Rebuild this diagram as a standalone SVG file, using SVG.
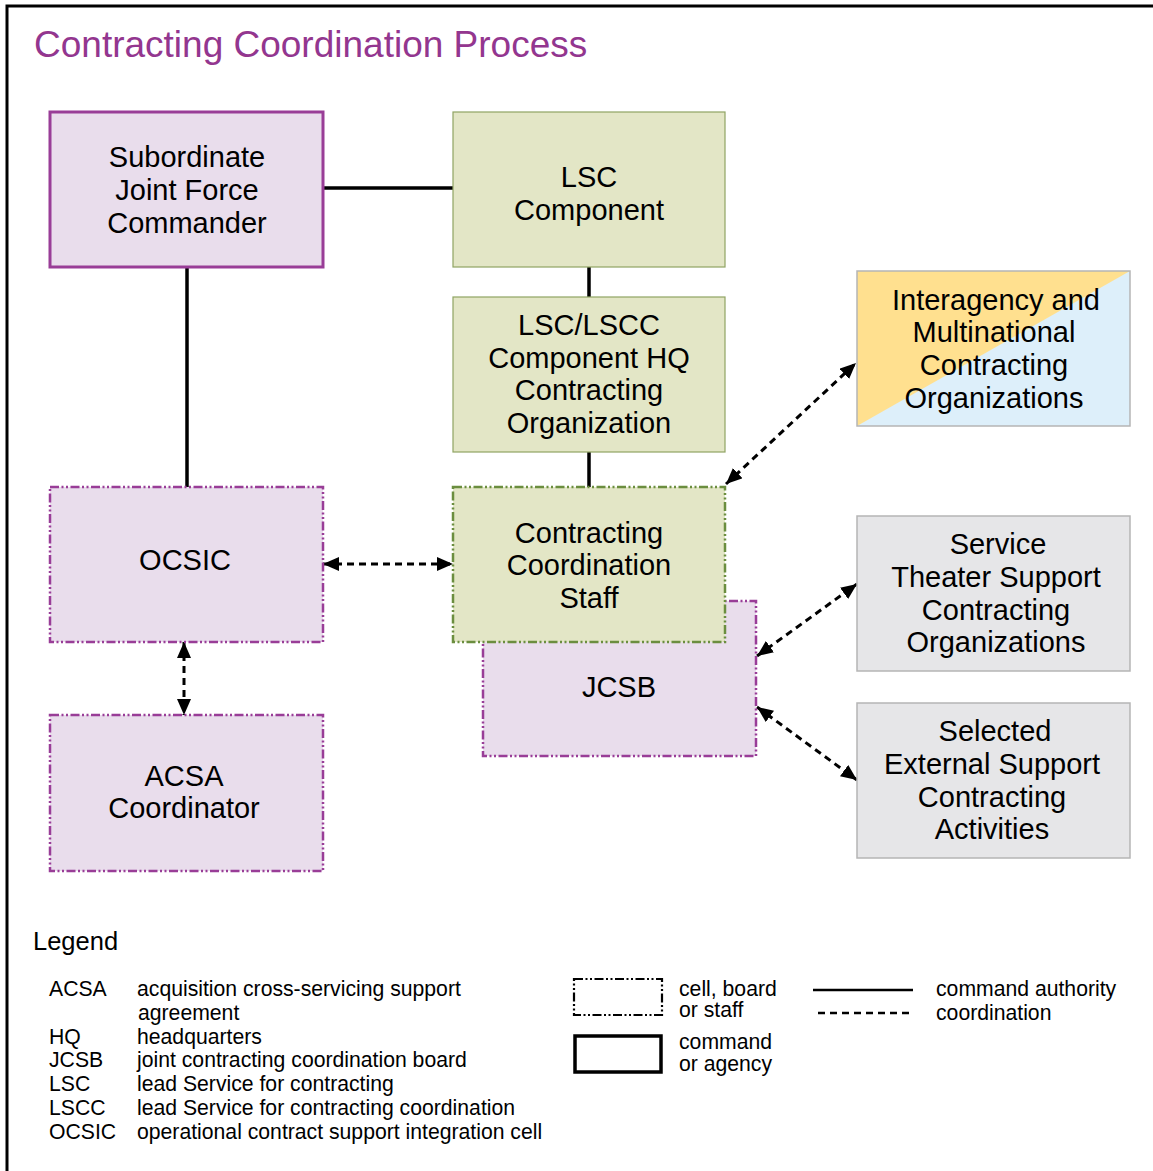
<svg xmlns="http://www.w3.org/2000/svg" width="1153" height="1171" viewBox="0 0 1153 1171">
  <style>
    text { font-family: "Liberation Sans", Arial, sans-serif; fill: #000; }
    .lbl { font-size: 29px; text-anchor: middle; }
    .title { font-size: 37px; fill: #93368F; }
    .leg { font-size: 21.2px; }
    .cmd { fill: #E9DDEC; stroke: #993D97; stroke-width: 3; }
    .cell { fill: #E9DDEC; stroke: #993D97; stroke-width: 2.5; stroke-dasharray: 9 2.5 2 2.5 2 2.5; }
    .olive { fill: #E3E6C6; stroke: #8FA463; stroke-width: 1.2; }
    .olivecell { fill: #E3E6C6; stroke: #6B8E3F; stroke-width: 2.5; stroke-dasharray: 9 2.5 2 2.5 2 2.5; }
    .grey { fill: #E6E6E8; stroke: #B5B5B5; stroke-width: 1.5; }
    .solid { stroke: #000; stroke-width: 3.5; fill: none; }
    .dash { stroke: #000; stroke-width: 3; fill: none; stroke-dasharray: 7 5; marker-start: url(#arr); marker-end: url(#arr); }
  </style>
  <defs>
    <marker id="arr" viewBox="0 0 16 14" refX="16" refY="7" markerWidth="16" markerHeight="14" markerUnits="userSpaceOnUse" orient="auto-start-reverse">
      <path d="M0,0 L16,7 L0,14 z" fill="#000" stroke="none"/>
    </marker>
    <clipPath id="ia-clip">
      <rect x="857" y="271" width="273" height="155"/>
    </clipPath>
  </defs>

  <rect width="1153" height="1171" fill="#fff"/>
  <!-- outer frame -->
  <path d="M7,1171 L7,6 L1153,6" fill="none" stroke="#000" stroke-width="3"/>

  <text class="title" x="34" y="57">Contracting Coordination Process</text>

  <!-- connectors -->
  <g id="connectors">
    <line class="solid" x1="323" y1="188" x2="453" y2="188"/>
    <line class="solid" x1="589" y1="267" x2="589" y2="297"/>
    <line class="solid" x1="589" y1="452" x2="589" y2="487"/>
    <line class="solid" x1="187" y1="267" x2="187" y2="487"/>
    <line class="dash" x1="323" y1="564" x2="453" y2="564"/>
    <line class="dash" x1="184" y1="642" x2="184" y2="715"/>
    <line class="dash" x1="726" y1="484" x2="856" y2="363"/>
    <line class="dash" x1="757" y1="656" x2="857" y2="584"/>
    <line class="dash" x1="757" y1="707" x2="857" y2="780"/>
  </g>

  <g id="sjfc">
    <rect class="cmd" x="50" y="112" width="273" height="155"/>
    <text class="lbl" x="187" y="167">Subordinate</text>
    <text class="lbl" x="187" y="200">Joint Force</text>
    <text class="lbl" x="187" y="233">Commander</text>
  </g>

  <g id="lsc">
    <rect class="olive" x="453" y="112" width="272" height="155"/>
    <text class="lbl" x="589" y="187">LSC</text>
    <text class="lbl" x="589" y="220">Component</text>
  </g>

  <g id="lsc-hq">
    <rect class="olive" x="453" y="297" width="272" height="155"/>
    <text class="lbl" x="589" y="335">LSC/LSCC</text>
    <text class="lbl" x="589" y="368">Component HQ</text>
    <text class="lbl" x="589" y="400">Contracting</text>
    <text class="lbl" x="589" y="433">Organization</text>
  </g>

  <g id="jcsb">
    <rect class="cell" x="483" y="601" width="273" height="155"/>
    <text class="lbl" x="619" y="697">JCSB</text>
  </g>

  <g id="ccs">
    <rect class="olivecell" x="453" y="487" width="272" height="155"/>
    <text class="lbl" x="589" y="543">Contracting</text>
    <text class="lbl" x="589" y="575">Coordination</text>
    <text class="lbl" x="589" y="608">Staff</text>
  </g>

  <g id="ocsic">
    <rect class="cell" x="50" y="487" width="273" height="155"/>
    <text class="lbl" x="185" y="570">OCSIC</text>
  </g>

  <g id="acsa">
    <rect class="cell" x="50" y="715" width="273" height="156"/>
    <text class="lbl" x="184" y="786">ACSA</text>
    <text class="lbl" x="184" y="818">Coordinator</text>
  </g>

  <g id="interagency">
    <g clip-path="url(#ia-clip)">
      <rect x="857" y="271" width="273" height="155" fill="#DDEFFA"/>
      <polygon points="857,271 1130,271 857,426" fill="#FFE08F"/>
    </g>
    <rect x="857" y="271" width="273" height="155" fill="none" stroke="#B5B5B5" stroke-width="1.5"/>
    <text class="lbl" x="996" y="310">Interagency and</text>
    <text class="lbl" x="994" y="342">Multinational</text>
    <text class="lbl" x="994" y="375">Contracting</text>
    <text class="lbl" x="994" y="408">Organizations</text>
  </g>

  <g id="service">
    <rect class="grey" x="857" y="516" width="273" height="155"/>
    <text class="lbl" x="998" y="554">Service</text>
    <text class="lbl" x="996" y="587">Theater Support</text>
    <text class="lbl" x="996" y="620">Contracting</text>
    <text class="lbl" x="996" y="652">Organizations</text>
  </g>

  <g id="external">
    <rect class="grey" x="857" y="703" width="273" height="155"/>
    <text class="lbl" x="995" y="741">Selected</text>
    <text class="lbl" x="992" y="774">External Support</text>
    <text class="lbl" x="992" y="807">Contracting</text>
    <text class="lbl" x="992" y="839">Activities</text>
  </g>

  <!-- legend -->
  <g id="legend">
    <text x="33" y="950" font-size="25.5">Legend</text>
    <g>
      <text class="leg" x="49" y="996">ACSA</text>
      <text class="leg" x="137" y="996">acquisition cross-servicing support</text>
      <text class="leg" x="138" y="1020">agreement</text>
      <text class="leg" x="49" y="1044">HQ</text>
      <text class="leg" x="137" y="1044">headquarters</text>
      <text class="leg" x="49" y="1067">JCSB</text>
      <text class="leg" x="137" y="1067">joint contracting coordination board</text>
      <text class="leg" x="49" y="1091">LSC</text>
      <text class="leg" x="137" y="1091">lead Service for contracting</text>
      <text class="leg" x="49" y="1115">LSCC</text>
      <text class="leg" x="137" y="1115">lead Service for contracting coordination</text>
      <text class="leg" x="49" y="1139">OCSIC</text>
      <text class="leg" x="137" y="1139">operational contract support integration cell</text>
    </g>
    <rect x="574" y="979" width="88" height="36" fill="none" stroke="#000" stroke-width="2.2" stroke-dasharray="9 2.5 2 2.5 2 2.5"/>
    <rect x="575" y="1036" width="86" height="36" fill="none" stroke="#000" stroke-width="3.5"/>
    <text class="leg" x="679" y="996">cell, board</text>
    <text class="leg" x="679" y="1017">or staff</text>
    <text class="leg" x="679" y="1049">command</text>
    <text class="leg" x="679" y="1071">or agency</text>
    <line x1="813" y1="990" x2="913" y2="990" stroke="#000" stroke-width="2.5"/>
    <line x1="818" y1="1013" x2="913" y2="1013" stroke="#000" stroke-width="2.5" stroke-dasharray="7 5"/>
    <text class="leg" x="936" y="996">command authority</text>
    <text class="leg" x="936" y="1020">coordination</text>
  </g>
</svg>
